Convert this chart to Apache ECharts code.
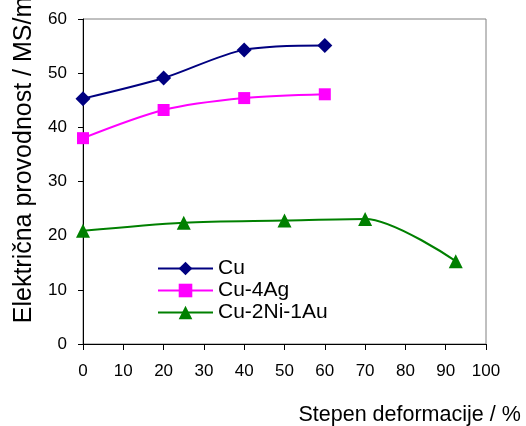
<!DOCTYPE html>
<html>
<head>
<meta charset="utf-8">
<script src="https://cdn.jsdelivr.net/npm/echarts@6/dist/echarts.min.js"></script>
<style>html,body{margin:0;padding:0;background:#fff}#c{width:526px;height:426px}</style>
</head>
<body>
<div id="c"></div>
<script>
const seriesNames = ['Cu', 'Cu-4Ag', 'Cu-2Ni-1Au'];
const cuX = [0, 20, 40, 60];
const cuY = [45.3, 49.1, 54.3, 55.1];
const agX = [0, 20, 40, 60];
const agY = [38.0, 43.2, 45.4, 46.1];
const niX = [0, 25, 50, 70, 92.5];
const niY = [20.9, 22.4, 22.8, 23.1, 15.3];
const xTitle = 'Stepen deformacije / %';
const yTitle = 'Električna provodnost / MS/m';

const pairs = (xs, ys) => xs.map((x, i) => [x, ys[i]]);
const FONT = '"Liberation Sans", Arial, sans-serif';

const chart = echarts.init(document.getElementById('c'), null, {renderer: 'canvas'});
chart.setOption({
  animation: false,
  backgroundColor: '#fff',
  textStyle: {fontFamily: FONT, color: '#000'},
  grid: {left: 83, right: 40, top: 19, bottom: 82, show: true, borderColor: '#808080', borderWidth: 1,
         containLabel: false, outerBoundsMode: 'none'},
  legend: {
    orient: 'vertical', left: 157, top: 258, padding: 0, itemGap: 1,
    itemWidth: 55, itemHeight: 17,
    textStyle: {fontFamily: FONT, fontSize: 21, color: '#000', lineHeight: 21},
    data: seriesNames
  },
  xAxis: {
    type: 'value', min: 0, max: 100, interval: 10,
    name: xTitle, nameLocation: 'middle', nameGap: 60,
    nameTextStyle: {fontFamily: FONT, fontSize: 21.5, color: '#000', align: 'left', padding: [0, 0, 0, 14]},
    axisLine: {show: true, lineStyle: {color: '#000', width: 1}},
    axisTick: {show: true, length: 6, lineStyle: {color: '#000'}},
    axisLabel: {fontFamily: FONT, fontSize: 17, color: '#000', margin: 19},
    splitLine: {show: false}
  },
  yAxis: {
    type: 'value', min: 0, max: 60, interval: 10,
    name: yTitle, nameLocation: 'middle', nameGap: 46, nameRotate: 90,
    nameTextStyle: {fontFamily: FONT, fontSize: 25, color: '#000', padding: [0, 0, 0, 43]},
    axisLine: {show: true, lineStyle: {color: '#000', width: 1}},
    axisTick: {show: true, length: 5, lineStyle: {color: '#000'}},
    axisLabel: {fontFamily: FONT, fontSize: 17, color: '#000', margin: 16},
    splitLine: {show: false}
  },
  series: [
    {name: seriesNames[0], type: 'line', data: pairs(cuX, cuY), smooth: 0.3,
     symbol: 'diamond', symbolSize: 15, color: '#000080',
     lineStyle: {width: 2, color: '#000080'}, itemStyle: {color: '#000080'}},
    {name: seriesNames[1], type: 'line', data: pairs(agX, agY), smooth: 0.3,
     symbol: 'rect', symbolSize: 12, color: '#FF00FF',
     lineStyle: {width: 2, color: '#FF00FF'}, itemStyle: {color: '#FF00FF'}},
    {name: seriesNames[2], type: 'line', data: pairs(niX, niY), smooth: 0.3,
     symbol: 'triangle', symbolSize: 14, color: '#008000',
     lineStyle: {width: 2, color: '#008000'}, itemStyle: {color: '#008000'}}
  ]
});
</script>
</body>
</html>
